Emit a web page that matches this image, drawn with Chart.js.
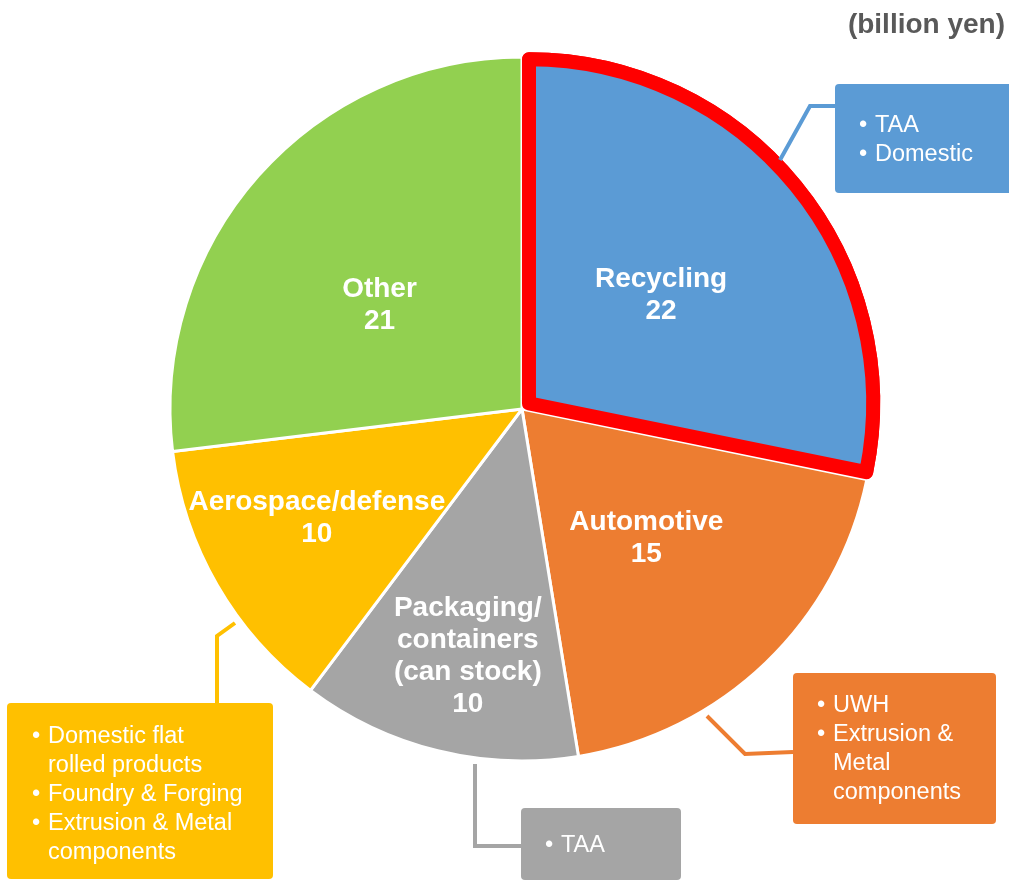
<!DOCTYPE html>
<html>
<head>
<meta charset="utf-8">
<script src="https://cdn.jsdelivr.net/npm/chart.js@4.4.1/dist/chart.umd.min.js"></script>
<style>
  html, body { margin: 0; padding: 0; background: #fff; }
  #wrap { position: relative; width: 1009px; height: 882px; }
</style>
</head>
<body>
<div id="wrap"><canvas id="pie" width="1009" height="882"></canvas></div>
<script>
// --- DATA ---
const segments = ['Recycling', 'Automotive', 'Packaging/containers (can stock)', 'Aerospace/defense', 'Other'];
const values = [22, 15, 10, 10, 21];
const sliceLabels = [
    ['Recycling', '22'],
    ['Automotive', '15'],
    ['Packaging/', 'containers', '(can stock)', '10'],
    ['Aerospace/defense', '10'],
    ['Other', '21']
];
const unitLabel = '(billion yen)';
const recyclingNotes = ['TAA', 'Domestic'];
const automotiveNotes = [['UWH'], ['Extrusion &', 'Metal', 'components']];
const packagingNotes = [['TAA']];
const aerospaceNotes = [['Domestic flat', 'rolled products'], ['Foundry & Forging'], ['Extrusion & Metal', 'components']];

// --- STYLE ---
const sliceColors = ['#5B9BD5', '#ED7D31', '#A5A5A5', '#FFC000', '#92D050'];
const labelRadius = [0.51, 0.51, 0.72, 0.66, 0.5];
const labelAngleShift = [0, 0, -1.5, 2, -5.6]; // degrees
const highlightRadius = 344; // the outlined slice is drawn a bit smaller
const FONT = '"Liberation Sans", Arial, sans-serif';

// callout boxes: box rect, connector path, bullet lines
const callouts = [
    { color: '#5B9BD5', box: [835, 84, 180, 109], path: [[780, 160], [810, 106], [835, 106]],
      items: recyclingNotes.map(t => [t]), textX: 875, firstY: 126 },
    { color: '#ED7D31', box: [793, 673, 203, 151], path: [[707, 716], [745, 754], [793, 752]],
      items: automotiveNotes, textX: 833, firstY: 706 },
    { color: '#A5A5A5', box: [521, 808, 160, 72], path: [[475, 764], [475, 846], [521, 846]],
      items: packagingNotes, textX: 561, firstY: 846 },
    { color: '#FFC000', box: [7, 703, 266, 176], path: [[235, 623], [217, 636], [217, 703]],
      items: aerospaceNotes, textX: 48, firstY: 737 }
];

function roundRect(ctx, x, y, w, h, r) {
    ctx.beginPath();
    ctx.moveTo(x + r, y);
    ctx.lineTo(x + w - r, y);
    ctx.quadraticCurveTo(x + w, y, x + w, y + r);
    ctx.lineTo(x + w, y + h - r);
    ctx.quadraticCurveTo(x + w, y + h, x + w - r, y + h);
    ctx.lineTo(x + r, y + h);
    ctx.quadraticCurveTo(x, y + h, x, y + h - r);
    ctx.lineTo(x, y + r);
    ctx.quadraticCurveTo(x, y, x + r, y);
    ctx.closePath();
}

const overlayPlugin = {
    id: 'overlay',
    beforeDatasetsDraw(chart) {
        chart.getDatasetMeta(0).data[0].outerRadius = highlightRadius;
    },
    afterDatasetsDraw(chart) {
        const ctx = chart.ctx;
        const arcs = chart.getDatasetMeta(0).data;
        // highlighted slice on top so its red outline is not covered
        arcs[0].draw(ctx);

        // slice labels
        ctx.save();
        ctx.fillStyle = '#ffffff';
        ctx.font = 'bold 28px ' + FONT;
        ctx.textAlign = 'center';
        ctx.textBaseline = 'middle';
        const R = chart.getDatasetMeta(0).controller.outerRadius;
        arcs.forEach((arc, i) => {
            const p = arc.getProps(['x', 'y', 'startAngle', 'endAngle'], true);
            const mid = (p.startAngle + p.endAngle) / 2 + labelAngleShift[i] * Math.PI / 180;
            const r = R * labelRadius[i];
            const cx = p.x + Math.cos(mid) * r;
            const cy = p.y + Math.sin(mid) * r;
            const lines = sliceLabels[i];
            const lh = 32;
            const y0 = cy - (lines.length - 1) * lh / 2;
            lines.forEach((t, k) => ctx.fillText(t, cx, y0 + k * lh));
        });
        ctx.restore();
    },
    afterDraw(chart) {
        const ctx = chart.ctx;
        ctx.save();
        // unit label
        ctx.fillStyle = '#595959';
        ctx.font = 'bold 28px ' + FONT;
        ctx.textAlign = 'right';
        ctx.textBaseline = 'middle';
        ctx.fillText(unitLabel, 1005, 25);

        callouts.forEach(c => {
            ctx.strokeStyle = c.color;
            ctx.lineWidth = 4;
            ctx.lineJoin = 'miter';
            ctx.beginPath();
            c.path.forEach((pt, k) => k ? ctx.lineTo(pt[0], pt[1]) : ctx.moveTo(pt[0], pt[1]));
            ctx.stroke();

            ctx.fillStyle = c.color;
            roundRect(ctx, c.box[0], c.box[1], c.box[2], c.box[3], 4);
            ctx.fill();

            ctx.fillStyle = '#ffffff';
            ctx.font = '23.5px ' + FONT;
            ctx.textAlign = 'left';
            ctx.textBaseline = 'middle';
            let y = c.firstY;
            c.items.forEach(lines => {
                ctx.fillText('\u2022', c.textX - 16, y);
                lines.forEach(t => {
                    ctx.fillText(t, c.textX, y);
                    y += 29;
                });
            });
        });
        ctx.restore();
    }
};

// --- CHART ---
const ctx = document.getElementById('pie').getContext('2d');
new Chart(ctx, {
    type: 'pie',
    data: {
        labels: segments,
        datasets: [{
            data: values,
            backgroundColor: sliceColors,
            borderColor: ['#FF0000', '#ffffff', '#ffffff', '#ffffff', '#ffffff'],
            borderWidth: [14, 3, 3, 3, 3],
            borderJoinStyle: ['round', 'bevel', 'bevel', 'bevel', 'bevel'],
            offset: [36, 0, 0, 0, 0]
        }]
    },
    options: {
        responsive: false,
        animation: false,
        events: [],
        radius: 352,
        layout: { padding: { left: 35, right: 0, top: 0, bottom: 64 } },
        plugins: { legend: { display: false }, tooltip: { enabled: false } }
    },
    plugins: [overlayPlugin]
});
</script>
</body>
</html>
